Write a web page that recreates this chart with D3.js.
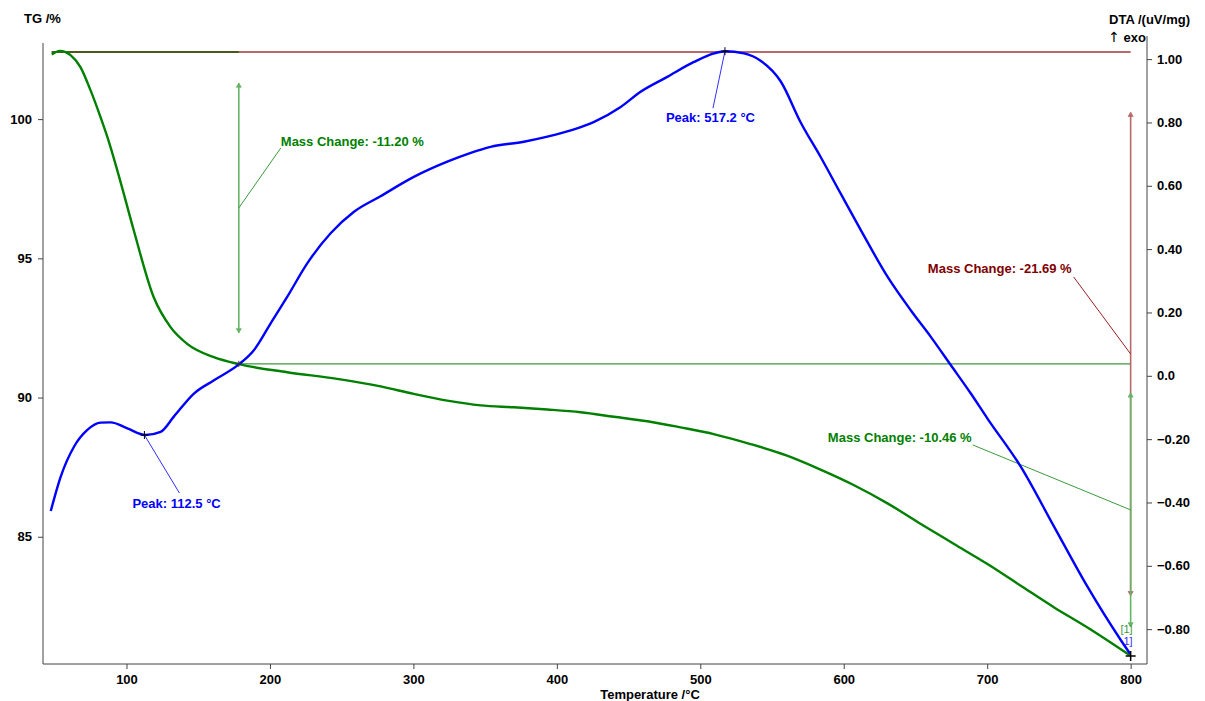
<!DOCTYPE html>
<html>
<head>
<meta charset="utf-8">
<script src="https://cdn.jsdelivr.net/npm/d3@7"></script>
<style>
    body { margin: 0; background: #fff; }
    svg text { font-family: "Liberation Sans", Arial, sans-serif; font-weight: bold; font-size: 13px; }
</style>
</head>
<body>
<div id="chart"></div>
<script>
// TG curve (temperature in °C, mass in %)
const tgTemp = [47.9, 53.6, 57.5, 61, 67.9, 74.9, 81.9, 86.7, 95.5, 105.1, 119, 130.7, 142.3, 160.9, 178.3,
    212, 246.9, 277.1, 300.3, 323.6, 346.9, 370.1, 393.4, 416.6, 439.8, 463.1, 486.3, 510, 535, 560,
    583.4, 607.2, 630.5, 653.7, 676.9, 700.2, 723.4, 746.7, 769.9, 799.5];
const tgValue = [102.32, 102.45, 102.41, 102.3, 101.87, 101.04, 100.07, 99.35, 97.81, 96.0, 93.6, 92.53, 91.93, 91.45, 91.2,
    90.91, 90.67, 90.40, 90.13, 89.89, 89.72, 89.65, 89.57, 89.47, 89.31, 89.15, 88.93, 88.68, 88.33, 87.92,
    87.42, 86.85, 86.2, 85.46, 84.74, 84.02, 83.24, 82.46, 81.74, 80.74];

// DTA curve (temperature in °C, signal in uV/mg)
const dtaTemp = [47.2, 54.1, 63.4, 72.7, 82, 89, 100.6, 113.2, 123.8, 133, 147, 161, 178.3, 188.8, 200.4,
    212, 226, 242.3, 258.6, 277.1, 300.3, 323.6, 340, 353.8, 377, 393.4, 412, 426, 444.5, 458.4,
    477, 495.6, 509.6, 517.2, 530.5, 542, 556, 570, 584, 597.9, 611.9, 630.5, 646.7, 660.7, 674.6,
    688.6, 700.2, 723.4, 746.7, 769.9, 793.2, 799.5];
const dtaValue = [-0.427, -0.319, -0.224, -0.171, -0.148, -0.147, -0.166, -0.187, -0.177, -0.129, -0.056, -0.014, 0.036, 0.081, 0.165,
    0.249, 0.355, 0.450, 0.518, 0.567, 0.628, 0.676, 0.704, 0.723, 0.739, 0.755, 0.778, 0.802, 0.849, 0.897,
    0.944, 0.991, 1.018, 1.025, 1.018, 0.995, 0.93, 0.80, 0.69, 0.575, 0.460, 0.313, 0.207, 0.123, 0.034,
    -0.056, -0.135, -0.287, -0.477, -0.666, -0.835, -0.877];

// axis ticks
const tempTicks = [100, 200, 300, 400, 500, 600, 700, 800];
const tgTicks = [85, 90, 95, 100];
const dtaTicks = [-0.8, -0.6, -0.4, -0.2, 0, 0.2, 0.4, 0.6, 0.8, 1.0];

// mass change evaluation: step temperatures and levels
const stepTemps = [47.9, 178.3, 800];
const stepLevels = [102.41, 91.21, 80.72];
const massLabels = ["Mass Change: -11.20 %", "Mass Change: -10.46 %", "Mass Change: -21.69 %"];

// DTA peaks
const peakTemps = [112.5, 517.2];
const peakValues = [-0.187, 1.025];
const peakLabels = ["Peak: 112.5 °C", "Peak: 517.2 °C"];

const GREEN = "#008000";
const RED = "#800000";
const BLUE = "#0000ff";

document.addEventListener("DOMContentLoaded", function() {
    drawChart();
});

function drawChart() {
    const width = 1205;
    const height = 701;
    const left = 43, right = 1147, top = 42, bottom = 664;

    const svg = d3.select("#chart").append("svg")
        .attr("width", width)
        .attr("height", height);

    const x = d3.scaleLinear().domain([41.8, 811.4]).range([left, right]);
    const yTG = d3.scaleLinear().domain([80.43, 102.77]).range([bottom, top]);
    const yDTA = d3.scaleLinear().domain([-0.910, 1.054]).range([bottom, top]);

    // axes
    const axisColor = "#444";
    const gLeft = svg.append("g").attr("transform", `translate(${left},0)`);
    gLeft.call(d3.axisLeft(yTG).tickValues(d3.range(81, 103)).tickSize(3).tickFormat(""));
    gLeft.call(d3.axisLeft(yTG).tickValues(tgTicks).tickSize(5).tickPadding(6));

    const gBottom = svg.append("g").attr("transform", `translate(0,${bottom})`);
    gBottom.call(d3.axisBottom(x).tickValues(d3.range(60, 801, 20)).tickSize(3).tickFormat(""));
    gBottom.call(d3.axisBottom(x).tickValues(tempTicks).tickSize(5).tickPadding(6));

    const gRight = svg.append("g").attr("transform", `translate(${right},0)`);
    gRight.call(d3.axisRight(yDTA).tickValues(d3.range(-9, 11).map(d => d / 10)).tickSize(3).tickFormat(""));
    gRight.call(d3.axisRight(yDTA).tickValues(dtaTicks).tickSize(5).tickPadding(5)
        .tickFormat(d => d === 0 ? "0.0" : d3.format(".2f")(d)));

    svg.selectAll(".domain").remove();
    svg.selectAll(".tick line").attr("stroke", axisColor);
    svg.selectAll(".tick text").attr("fill", "#000").style("font-size", "13px");

    svg.append("line").attr("x1", left).attr("x2", left).attr("y1", top + 1).attr("y2", bottom)
        .attr("stroke", axisColor);
    svg.append("line").attr("x1", left).attr("x2", right).attr("y1", bottom).attr("y2", bottom)
        .attr("stroke", axisColor);
    svg.append("line").attr("x1", right).attr("x2", right).attr("y1", 36).attr("y2", bottom)
        .attr("stroke", axisColor);

    // axis titles
    svg.append("text").attr("x", 24).attr("y", 23).text("TG /%");
    svg.append("text").attr("x", 1190).attr("y", 24).attr("text-anchor", "end").text("DTA /(uV/mg)");
    const exo = svg.append("text").attr("x", 1146).attr("y", 42).attr("text-anchor", "end");
    exo.append("tspan").style("font-family", "DejaVu Sans").style("font-weight", "normal")
        .style("font-size", "14px").text("\u2191");
    exo.append("tspan").text(" exo");
    svg.append("text").attr("x", 650).attr("y", 699).attr("text-anchor", "middle").text("Temperature /°C");

    // mass change evaluation lines
    const yTop = yTG(stepLevels[0]);
    const yMid = yTG(stepLevels[1]);
    const yEnd = yTG(stepLevels[2]);
    const xStart = x(stepTemps[0]);
    const xStep = x(stepTemps[1]);
    const xEnd = x(stepTemps[2]);

    svg.append("line").attr("x1", xStart).attr("x2", xEnd).attr("y1", yTop).attr("y2", yTop)
        .attr("stroke", "#b86a6a").attr("stroke-width", 2);
    svg.append("line").attr("x1", xStart).attr("x2", xStep).attr("y1", yTop).attr("y2", yTop)
        .attr("stroke", "#4b5a1c").attr("stroke-width", 2);
    svg.append("line").attr("x1", xStep).attr("x2", xEnd).attr("y1", yMid).attr("y2", yMid)
        .attr("stroke", "#3c9a3c").attr("stroke-width", 1.3);

    drawArrow(svg, xStep, yTop, yMid, "#66b466");
    drawArrow(svg, xEnd, yTop, yEnd, "#b86a6a");
    drawArrow(svg, xEnd, yMid, yEnd, "#66b466");

    // leaders + labels for mass changes
    const m1 = (yTop + yMid) / 2;
    svg.append("line").attr("x1", xStep).attr("y1", m1).attr("x2", xStep + 42).attr("y2", m1 - 60)
        .attr("stroke", "#3c9a3c").attr("stroke-width", 1);
    svg.append("text").attr("x", xStep + 42).attr("y", m1 - 62).attr("fill", GREEN).text(massLabels[0]);

    const m2 = (yMid + yEnd) / 2;
    svg.append("line").attr("x1", xEnd).attr("y1", m2).attr("x2", xEnd - 158).attr("y2", m2 - 65)
        .attr("stroke", "#3c9a3c").attr("stroke-width", 1);
    svg.append("text").attr("x", xEnd - 159).attr("y", m2 - 68).attr("text-anchor", "end")
        .attr("fill", GREEN).text(massLabels[1]);

    const m3 = (yTop + yEnd) / 2;
    svg.append("line").attr("x1", xEnd).attr("y1", m3).attr("x2", xEnd - 57).attr("y2", m3 - 77)
        .attr("stroke", "#9a2020").attr("stroke-width", 1);
    svg.append("text").attr("x", xEnd - 59).attr("y", m3 - 81).attr("text-anchor", "end")
        .attr("fill", RED).text(massLabels[2]);

    // curves
    const tgLine = d3.line()
        .x(d => x(d[0]))
        .y(d => yTG(d[1]))
        .curve(d3.curveMonotoneX);
    const dtaLine = d3.line()
        .x(d => x(d[0]))
        .y(d => yDTA(d[1]))
        .curve(d3.curveMonotoneX);

    svg.append("path")
        .datum(d3.zip(tgTemp, tgValue))
        .attr("d", tgLine)
        .attr("fill", "none")
        .attr("stroke", GREEN)
        .attr("stroke-width", 2.4);

    svg.append("path")
        .datum(d3.zip(dtaTemp, dtaValue))
        .attr("d", dtaLine)
        .attr("fill", "none")
        .attr("stroke", BLUE)
        .attr("stroke-width", 2.4);

    // peaks
    const p1x = x(peakTemps[0]), p1y = yDTA(peakValues[0]);
    svg.append("line").attr("x1", p1x).attr("y1", p1y).attr("x2", p1x + 35).attr("y2", p1y + 58)
        .attr("stroke", "#3030ff").attr("stroke-width", 1);
    drawCross(svg, p1x, p1y, 4, "#000", 1);
    svg.append("text").attr("x", p1x - 12).attr("y", p1y + 73).attr("fill", BLUE).text(peakLabels[0]);

    const p2x = x(peakTemps[1]), p2y = yDTA(peakValues[1]);
    svg.append("line").attr("x1", p2x).attr("y1", p2y).attr("x2", p2x - 12).attr("y2", p2y + 57)
        .attr("stroke", "#3030ff").attr("stroke-width", 1);
    drawCross(svg, p2x, p2y, 4, "#000", 1);
    svg.append("text").attr("x", p2x - 59).attr("y", p2y + 71).attr("fill", BLUE).text(peakLabels[1]);

    // markers at step points and end
    drawCross(svg, xStep, yMid, 3, "#333", 1);
    drawCross(svg, xEnd, yEnd, 5, "#000", 1.5);

    svg.append("text").attr("x", xEnd + 2).attr("y", yEnd - 23).attr("text-anchor", "end")
        .attr("fill", "#3c9a3c").style("font-size", "11px").style("font-weight", "normal").text("[1]");
    svg.append("text").attr("x", xEnd + 2).attr("y", yEnd - 11).attr("text-anchor", "end")
        .attr("fill", "#3030ff").style("font-size", "11px").style("font-weight", "normal").text("1]");
}

// vertical double arrow covering 10%..90% of a step
function drawArrow(svg, xPos, y1, y2, color) {
    const span = y2 - y1;
    const a = y1 + span * 0.1;
    const b = y1 + span * 0.9;
    svg.append("line").attr("x1", xPos).attr("x2", xPos).attr("y1", a).attr("y2", b)
        .attr("stroke", color).attr("stroke-width", 1.6);
    svg.append("path").attr("d", `M${xPos - 2.5},${a + 4}L${xPos},${a}L${xPos + 2.5},${a + 4}Z`)
        .attr("fill", color).attr("stroke", color).attr("stroke-width", 0.8);
    svg.append("path").attr("d", `M${xPos - 2.5},${b - 4}L${xPos},${b}L${xPos + 2.5},${b - 4}Z`)
        .attr("fill", color).attr("stroke", color).attr("stroke-width", 0.8);
}

function drawCross(svg, cx, cy, r, color, w) {
    svg.append("path")
        .attr("d", `M${cx - r},${cy}H${cx + r}M${cx},${cy - r}V${cy + r}`)
        .attr("stroke", color)
        .attr("stroke-width", w);
}
</script>
</body>
</html>
